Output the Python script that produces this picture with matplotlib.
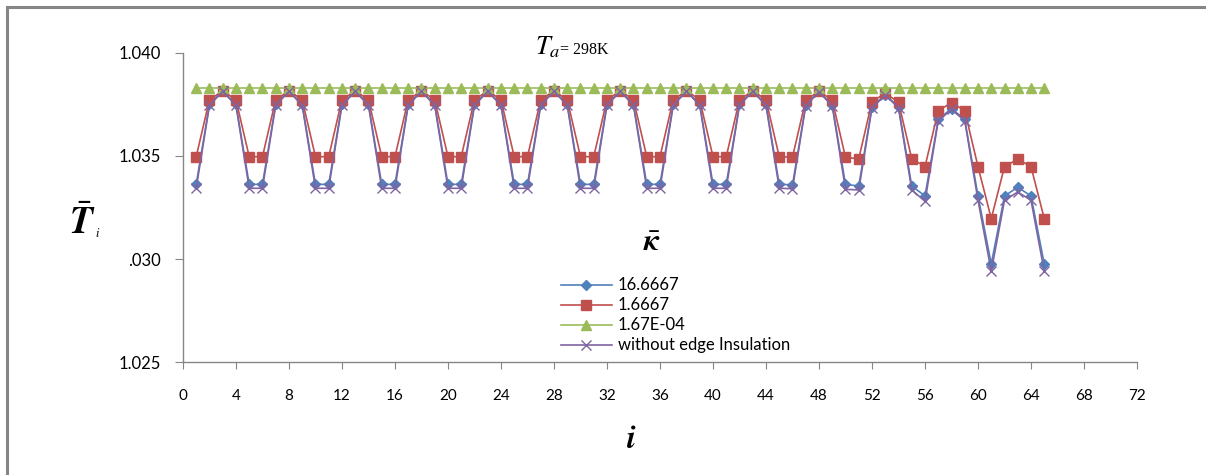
import numpy as np
import matplotlib
matplotlib.use('Agg')
import matplotlib.pyplot as plt
from matplotlib.lines import Line2D

# ── node index and mean temperature for each edge conductance ratio ─────────
node = np.arange(1, 66)

t_k16 = [
    1.03362, 1.03750, 1.03815, 1.03750, 1.03362,
    1.03362, 1.03750, 1.03815, 1.03750, 1.03362,
    1.03362, 1.03750, 1.03815, 1.03750, 1.03362,
    1.03362, 1.03750, 1.03815, 1.03750, 1.03362,
    1.03362, 1.03750, 1.03815, 1.03750, 1.03362,
    1.03362, 1.03750, 1.03815, 1.03750, 1.03362,
    1.03362, 1.03750, 1.03815, 1.03750, 1.03362,
    1.03362, 1.03750, 1.03815, 1.03750, 1.03362,
    1.03362, 1.03750, 1.03815, 1.03750, 1.03362,
    1.03360, 1.03748, 1.03812, 1.03747, 1.03362,
    1.03354, 1.03738, 1.03797, 1.03738, 1.03354,
    1.03306, 1.03677, 1.03729, 1.03677, 1.03306,
    1.02976, 1.03306, 1.03348, 1.03306, 1.02976,
]

t_k1 = [
    1.03496, 1.03772, 1.03815, 1.03772, 1.03496,
    1.03496, 1.03772, 1.03815, 1.03772, 1.03496,
    1.03496, 1.03772, 1.03815, 1.03772, 1.03496,
    1.03496, 1.03772, 1.03815, 1.03772, 1.03496,
    1.03496, 1.03772, 1.03815, 1.03772, 1.03496,
    1.03496, 1.03772, 1.03815, 1.03772, 1.03496,
    1.03496, 1.03772, 1.03815, 1.03772, 1.03496,
    1.03496, 1.03772, 1.03815, 1.03772, 1.03496,
    1.03496, 1.03772, 1.03815, 1.03772, 1.03496,
    1.03494, 1.03771, 1.03812, 1.03771, 1.03493,
    1.03486, 1.03763, 1.03803, 1.03761, 1.03486,
    1.03448, 1.03719, 1.03758, 1.03719, 1.03448,
    1.03196, 1.03448, 1.03484, 1.03448, 1.03196,
]

t_k0 = [
    1.03830, 1.03830, 1.03830, 1.03830, 1.03830,
    1.03830, 1.03830, 1.03830, 1.03830, 1.03830,
    1.03830, 1.03830, 1.03830, 1.03830, 1.03830,
    1.03830, 1.03830, 1.03830, 1.03830, 1.03830,
    1.03830, 1.03830, 1.03830, 1.03830, 1.03830,
    1.03830, 1.03830, 1.03830, 1.03830, 1.03830,
    1.03830, 1.03830, 1.03830, 1.03830, 1.03830,
    1.03830, 1.03830, 1.03830, 1.03830, 1.03830,
    1.03830, 1.03830, 1.03830, 1.03830, 1.03830,
    1.03830, 1.03830, 1.03830, 1.03830, 1.03830,
    1.03830, 1.03830, 1.03830, 1.03830, 1.03830,
    1.03830, 1.03830, 1.03830, 1.03830, 1.03830,
    1.03830, 1.03830, 1.03830, 1.03830, 1.03830,
]

t_noins = [
    1.03343, 1.03745, 1.03812, 1.03745, 1.03343,
    1.03343, 1.03745, 1.03812, 1.03745, 1.03343,
    1.03343, 1.03745, 1.03812, 1.03745, 1.03343,
    1.03343, 1.03745, 1.03812, 1.03745, 1.03343,
    1.03343, 1.03745, 1.03812, 1.03745, 1.03343,
    1.03343, 1.03745, 1.03812, 1.03745, 1.03343,
    1.03343, 1.03745, 1.03812, 1.03745, 1.03343,
    1.03343, 1.03745, 1.03812, 1.03745, 1.03343,
    1.03343, 1.03745, 1.03812, 1.03745, 1.03343,
    1.03341, 1.03743, 1.03809, 1.03742, 1.03338,
    1.03335, 1.03733, 1.03794, 1.03733, 1.03335,
    1.03280, 1.03670, 1.03725, 1.03670, 1.03285,
    1.02940, 1.03285, 1.03325, 1.03285, 1.02940,
]

labels = ['16.6667', '1.6667', '1.67E-04', 'without edge Insulation']
xticks = np.arange(0, 73, 4)
yticks = [1.025, 1.030, 1.035, 1.040]
ytick_labels = ['1.025', '.030', '1.035', '1.040']

fig = plt.figure(figsize=(12.06, 4.75), dpi=100)
ax = fig.add_axes([0.1517, 0.2373, 0.7911, 0.6518])

ax.plot(node, t_k16, color='#4F81BD', lw=1.2, marker='D', ms=4.8,
        mec='#4F81BD', label=labels[0])
ax.plot(node, t_k1, color='#C0504D', lw=1.2, marker='s', ms=7,
        mec='#C0504D', label=labels[1])
ax.plot(node, t_k0, color='#9BBB59', lw=1.2, marker='^', ms=7,
        mec='#9BBB59', label=labels[2])
ax.plot(node, t_noins, color='#8064A2', lw=1.2, marker='x', ms=6.5,
        mew=1.0, label=labels[3])

ax.set_xlim(0, 72)
ax.set_ylim(1.025, 1.040)
ax.set_xticks(xticks)
ax.set_xticklabels([str(v) for v in xticks], fontsize=11, family='Lato')
ax.set_yticks(yticks)
ax.set_yticklabels(ytick_labels, fontsize=12, family='Lato')
ax.tick_params(axis='x', direction='out', length=5, color='#868686', pad=14)
ax.tick_params(axis='y', direction='out', length=6, color='#868686', pad=10)
for side in ['top', 'right']:
    ax.spines[side].set_visible(False)
for side in ['left', 'bottom']:
    ax.spines[side].set_color('#868686')
    ax.spines[side].set_linewidth(1.0)

leg = ax.legend(loc='upper left', bbox_to_anchor=(0.4652, 0.4158),
                bbox_transform=fig.transFigure, frameon=False,
                prop={'family': 'Lato', 'size': 12}, handlelength=3.05,
                handletextpad=0.36, labelspacing=0.24, borderpad=0,
                borderaxespad=0)

# annotations: ambient temperature, conductance ratio symbol, axis symbols
fig.text(0.4436, 0.886, r'$T_a$', fontsize=19, ha='left', va='baseline',
         math_fontfamily='stix')
fig.text(0.4643, 0.886, '= 298K', family='Liberation Serif', fontsize=11.5,
         ha='left', va='baseline')
fig.text(0.541, 0.49, r'$\bar{\boldsymbol{\kappa}}$', fontsize=22, ha='center',
         va='center', math_fontfamily='stix')
fig.text(0.068, 0.53, r'$\bar{\mathbfit{T}}$', fontsize=27, ha='center',
         va='center', math_fontfamily='stix')
fig.text(0.081, 0.508, r'$\mathit{i}$', fontsize=9, ha='center',
         va='center', math_fontfamily='stix')
fig.text(0.523, 0.075, r'$\mathbfit{i}$', fontsize=23, ha='center',
         va='center', math_fontfamily='stix')

# chart area border (runs off the right and bottom edges)
fig.add_artist(Line2D([7 / 1206, 1.0], [1 - 7 / 475, 1 - 7 / 475],
                      color='#868686', lw=2.2, transform=fig.transFigure))
fig.add_artist(Line2D([7 / 1206, 7 / 1206], [0.0, 1 - 7 / 475],
                      color='#868686', lw=2.2, transform=fig.transFigure))

plt.savefig('out.png', dpi=100)
plt.close()
